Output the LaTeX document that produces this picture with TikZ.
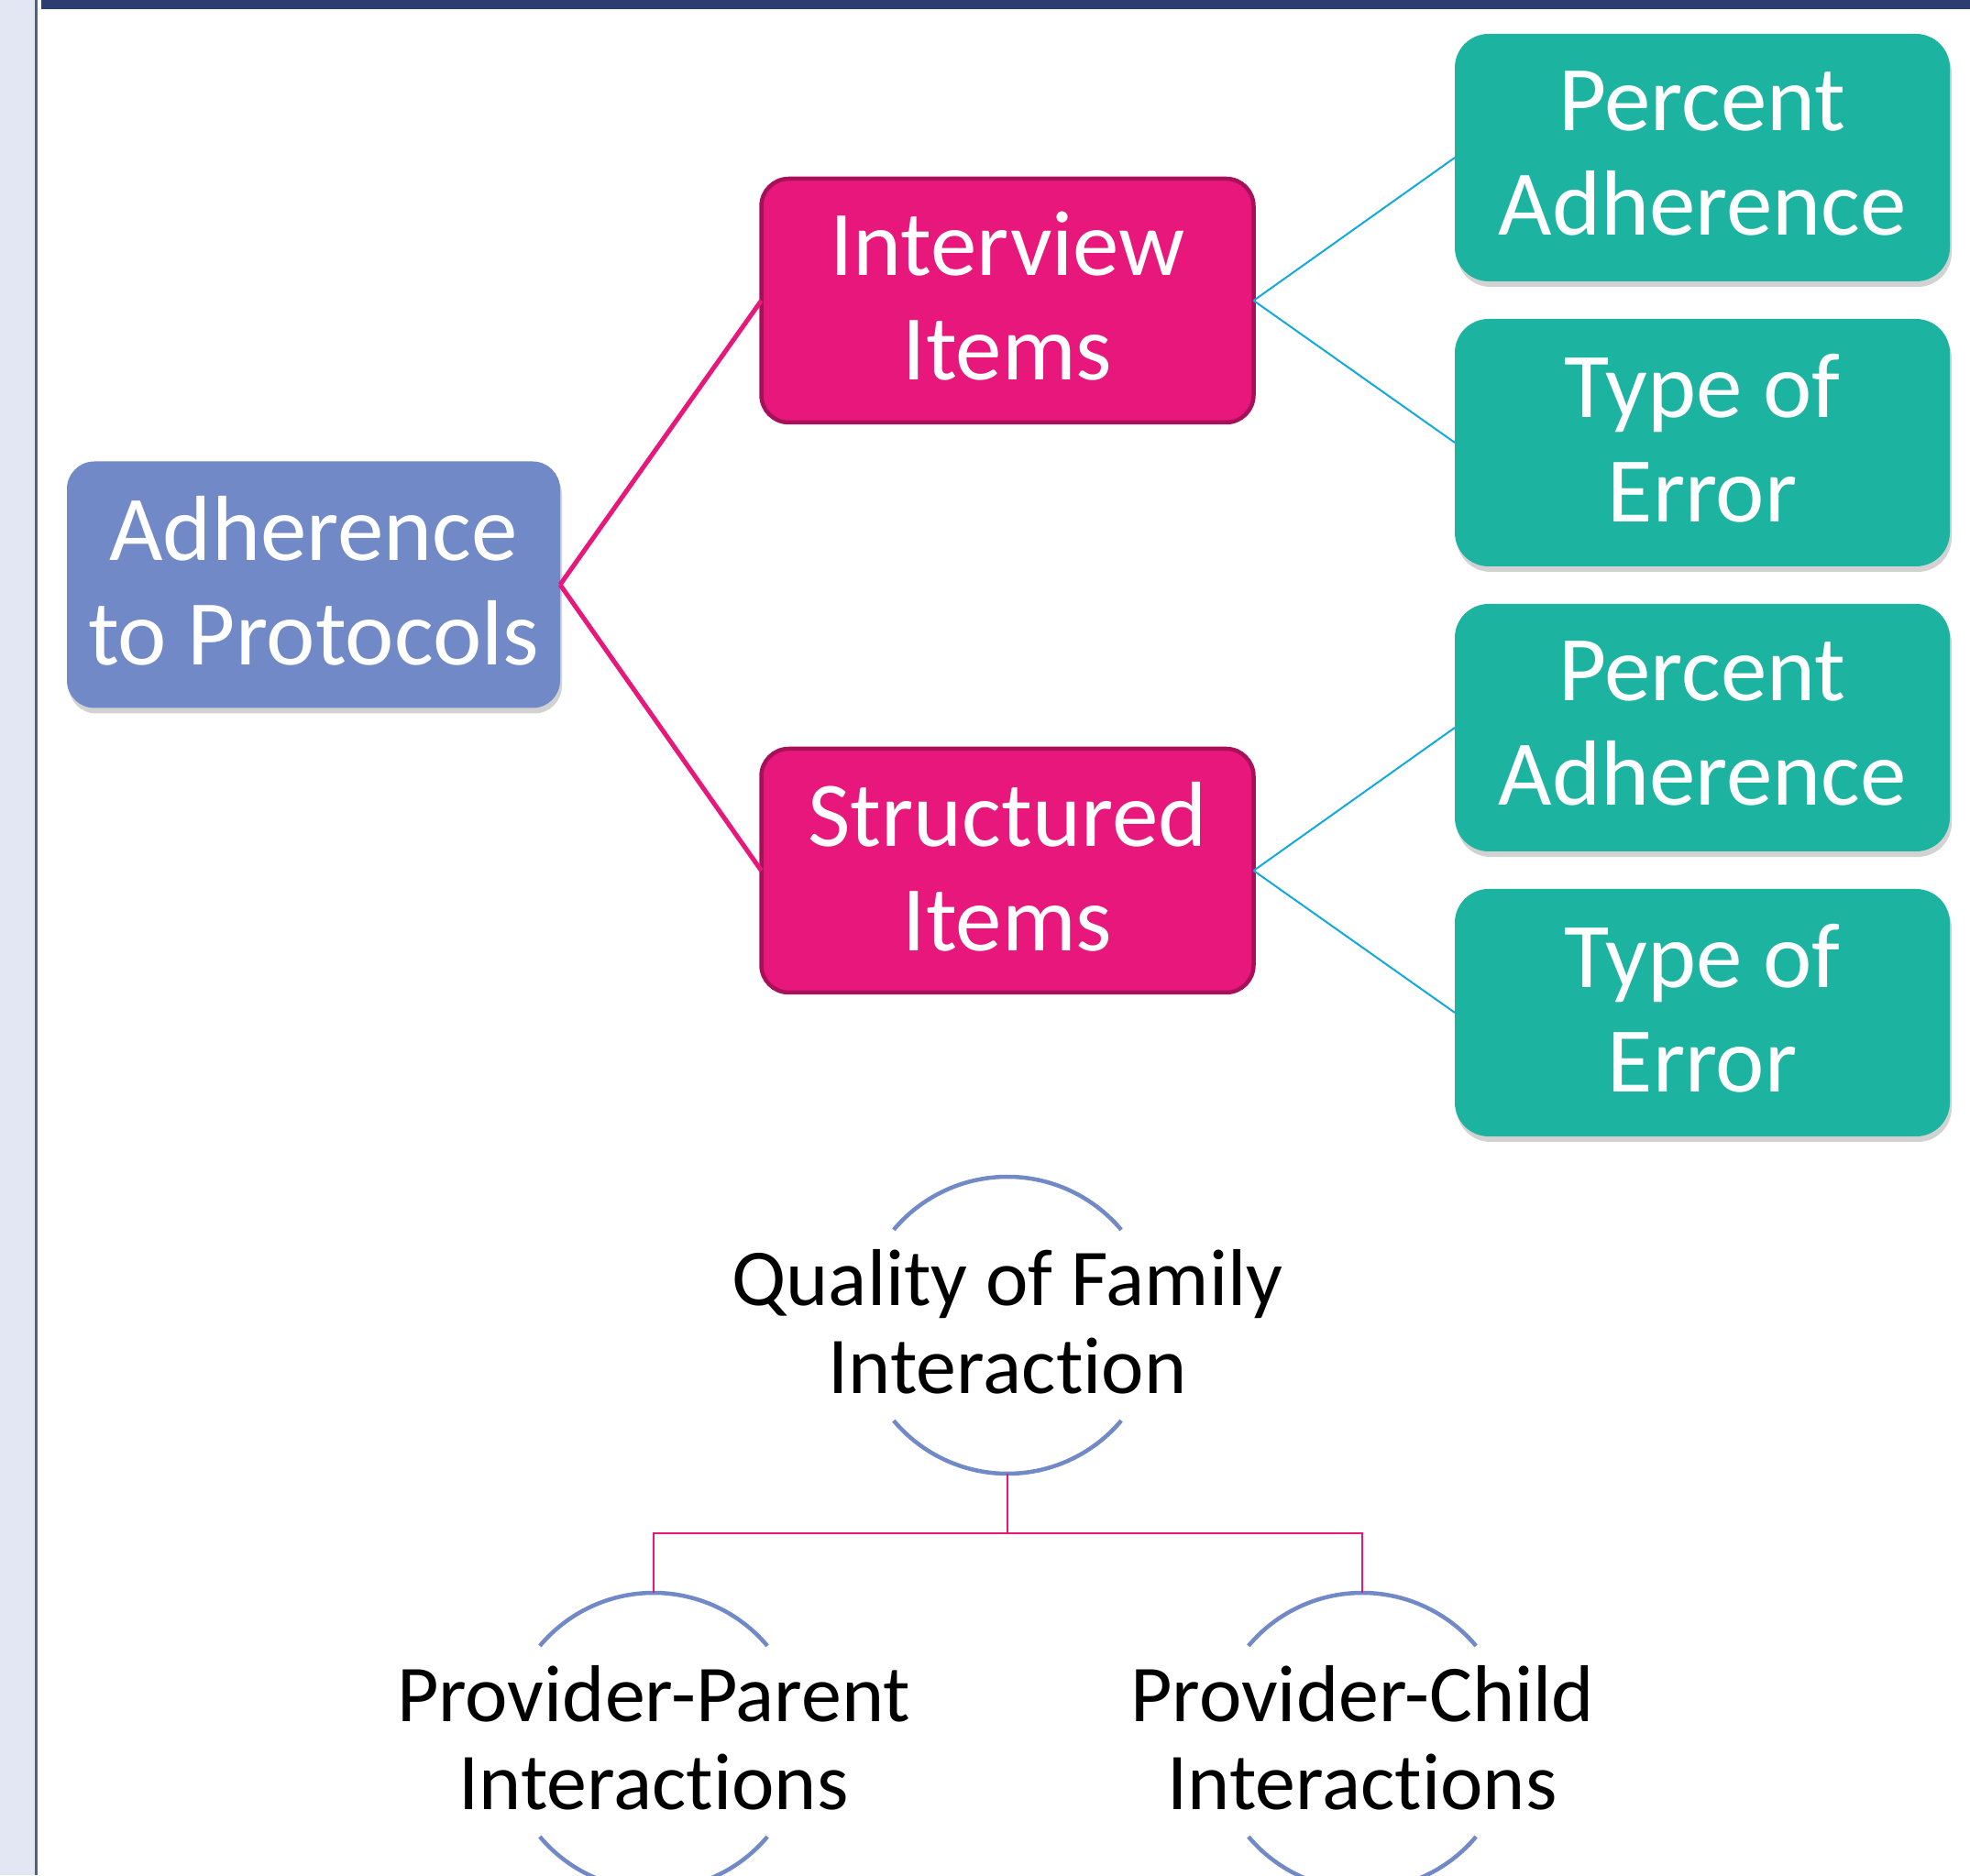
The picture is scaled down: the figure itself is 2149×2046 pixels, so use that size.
\documentclass[tikz,border=0pt]{standalone}
\usepackage{fontspec}
\setmainfont{Carlito}[Ligatures={NoCommon,NoContextual,NoRequired}, Contextuals=NoAlternate]
\usetikzlibrary{shadows}
\definecolor{stripc}{HTML}{E3E7F3}
\definecolor{dividerc}{HTML}{56627A}
\definecolor{barc}{HTML}{2C3E70}
\definecolor{bluec}{HTML}{7189C6}
\definecolor{magc}{HTML}{E8177B}
\definecolor{magdark}{HTML}{A8105A}
\definecolor{tealc}{HTML}{1CB3A0}
\definecolor{cyanc}{HTML}{12A9DF}
\tikzset{
  bigtext/.style={font=\fontsize{101}{114}\selectfont, text=white, align=center, text depth=10pt},
  boxshadow/.style={drop shadow={shadow xshift=2pt, shadow yshift=-6pt, opacity=0.22, fill=black!80}},
  rootbox/.style={bigtext, rectangle, rounded corners=30pt, fill=bluec, minimum width=538pt, minimum height=269pt, inner sep=0pt, outer sep=0pt, boxshadow},
  midbox/.style={bigtext, rectangle, rounded corners=30pt, fill=magc, draw=magdark, line width=4.5pt, minimum width=537pt, minimum height=266pt, inner sep=0pt, outer sep=0pt},
  leafbox/.style={bigtext, rectangle, rounded corners=37pt, fill=tealc, minimum width=540pt, minimum height=270pt, inner sep=0pt, outer sep=0pt, boxshadow},
  mline/.style={draw=magc, line width=5pt},
  cline/.style={draw=cyanc, line width=2pt},
  ring/.style={circle, minimum size=324pt, inner sep=0pt, outer sep=0pt},
  arcline/.style={draw=bluec, line width=4.5pt},
  lbl/.style={font=\fontsize{88}{96}\selectfont, text=black, align=center, inner sep=0pt, text depth=8pt},
  tline/.style={draw=magc, line width=2.5pt}
}
\begin{document}
\begin{tikzpicture}[x=1pt,y=1pt]
\useasboundingbox (0,0) rectangle (2149,2046);
% background decorations
\fill[white] (0,0) rectangle (2149,2046);
\fill[stripc] (0,0) rectangle (38,2046);
\fill[dividerc] (38,0) rectangle (40.5,2046);
\fill[barc] (45,2036) rectangle (2149,2046);

% top tree
\node[rootbox] (adh) at (342,1408) {Adherence\\to Protocols};
\node[midbox] (int) at (1099,1718) {Interview\\Items};
\node[midbox] (str) at (1099,1096) {Structured\\Items};
\node[leafbox] (pa1) at (1857,1874) {Percent\\Adherence};
\node[leafbox] (te1) at (1857,1563) {Type of\\Error};
\node[leafbox] (pa2) at (1857,1252) {Percent\\Adherence};
\node[leafbox] (te2) at (1857,941) {Type of\\Error};

\draw[mline] (adh.east) -- (int.west);
\draw[mline] (adh.east) -- (str.west);
\draw[cline] (int.east) -- (pa1.west);
\draw[cline] (int.east) -- (te1.west);
\draw[cline] (str.east) -- (pa2.west);
\draw[cline] (str.east) -- (te2.west);

% bottom hierarchy
\node[ring] (q) at (1099,600) {};
\node[lbl] (qt) at (q.center) {Quality of Family\\Interac\kern0pt tion};
\node[ring] (pp) at (713,146) {};
\node[lbl] (ppt) at (pp.center) {Provider-Parent\\Interac\kern0pt tions};
\node[ring] (pc) at (1486,146) {};
\node[lbl] (pct) at (pc.center) {Provider-Child\\Interac\kern0pt tions};

\foreach \n in {q,pp,pc}{
  \draw[arcline] (\n.40) arc[start angle=40, end angle=140, radius=162pt];
  \draw[arcline] (\n.220) arc[start angle=220, end angle=320, radius=162pt];
}

\coordinate (j) at (1099,373);
\draw[tline] (q.south) -- (j);
\draw[tline] (pp.north) |- (j) -| (pc.north);
\end{tikzpicture}
\end{document}
